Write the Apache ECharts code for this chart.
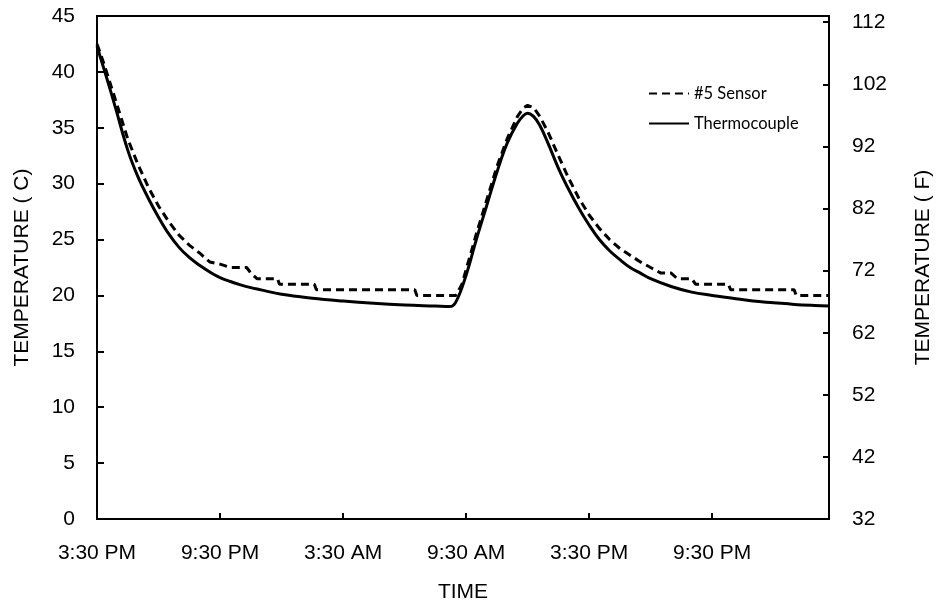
<!DOCTYPE html>
<html>
<head>
<meta charset="utf-8">
<script src="https://cdn.jsdelivr.net/npm/echarts@6/dist/echarts.min.js"></script>
<style>
  html, body { margin: 0; padding: 0; background: #fff; }
  #chart { width: 938px; height: 603px; }
</style>
</head>
<body>
<div id="chart"></div>
<script>
// hours after 3:30 PM
var tickLabels = ['3:30 PM', '9:30 PM', '3:30 AM', '9:30 AM', '3:30 PM', '9:30 PM'];

// thermocouple
var tcHours = [0, 0.25, 0.5, 0.9, 1.5, 2.0, 2.5, 3.0, 3.5, 4.0, 4.5, 5.0, 5.5, 6.0, 6.5, 7.0, 7.5, 8.0, 9.0,
  10.5, 12, 13.5, 15, 16.5, 17.2, 17.5, 18.0, 18.5, 19.0, 19.5, 20.0, 20.5, 20.8, 21.0, 21.3,
  21.6, 22.0, 22.5, 23.0, 23.5, 24.0, 24.5, 25.0, 25.5, 26.0, 26.5, 27.0, 28.0, 29.0, 30.0, 31.0, 32.0,
  33.0, 34.0, 35.0, 35.7];
var tcTemp = [42.3, 40.8, 39.3, 36.8, 33.0, 30.6, 28.7, 27.0, 25.5, 24.3, 23.4, 22.7, 22.1, 21.6, 21.25, 20.95, 20.7, 20.5, 20.1,
  19.75, 19.5, 19.3, 19.15, 19.05, 19.0, 19.4, 21.8, 25.0, 28.0, 31.0, 33.6, 35.4, 36.1, 36.3, 36.0,
  35.2, 33.6, 31.4, 29.5, 27.8, 26.3, 25.0, 24.0, 23.2, 22.5, 22.0, 21.5, 20.8, 20.3, 20.0, 19.75, 19.5,
  19.35, 19.2, 19.1, 19.05];

// #5 sensor
var snHours = [0, 0.25, 0.5, 0.9, 1.5, 2.0, 2.5, 3.0, 3.5, 4.0, 4.5, 5.0, 5.5, 6.0, 6.5, 7.3, 7.5,
  7.8, 8.8, 8.9, 10.6, 10.7, 15.5, 15.6, 17.5, 17.8, 18.0, 18.5, 19.0, 19.5, 20.0, 20.5, 20.8,
  21.0, 21.3, 21.6, 22.0, 22.5, 23.0, 23.5, 24.0, 24.5, 25.0, 25.5, 26.0, 26.5, 27.0, 27.5,
  28.0, 28.3, 29.0, 29.2, 30.8, 30.9, 34.0, 34.1, 35.7];
var snTemp = [42.5, 41.2, 39.8, 37.5, 34.0, 31.7, 29.7, 28.0, 26.6, 25.4, 24.5, 23.8, 23.0, 22.8, 22.5, 22.5, 22.0,
  21.5, 21.5, 21.0, 21.0, 20.5, 20.5, 20.0, 20.0, 21.0, 22.3, 25.5, 28.5, 31.5, 34.0, 36.0, 36.8,
  37.0, 36.8, 36.0, 34.6, 32.5, 30.5, 28.7, 27.2, 26.0, 25.0, 24.2, 23.6, 23.0, 22.5, 22.0,
  22.0, 21.5, 21.5, 21.0, 21.0, 20.5, 20.5, 20.0, 20.0];

function pairs(xs, ys) {
  return xs.map(function (x, i) { return [x, ys[i]]; });
}

var myChart = echarts.init(document.getElementById('chart'));

var axisFont = { fontFamily: 'Arial, Liberation Sans', fontSize: 21, color: '#000' };
var nameFont = { fontFamily: 'Arial, Liberation Sans', fontSize: 21, color: '#000' };

var option = {
  animation: false,
  backgroundColor: '#fff',
  grid: {
    left: 97, right: 109, top: 16, bottom: 84,
    outerBoundsMode: 'none',
    containLabel: false,
    show: true, borderColor: '#000', borderWidth: 2
  },
  legend: {
    orient: 'vertical',
    left: 643, top: 80,
    itemWidth: 40, itemHeight: 16, itemGap: 13,
    itemStyle: { color: 'transparent', borderColor: 'transparent', borderWidth: 0 },
    textStyle: { fontFamily: 'Lato', fontSize: 16.5, color: '#000' },
    data: ['#5 Sensor', 'Thermocouple']
  },
  xAxis: {
    type: 'value',
    min: 0, max: 35.7, interval: 6,
    name: 'TIME', nameLocation: 'middle', nameGap: 63,
    nameTextStyle: nameFont,
    axisLine: { lineStyle: { color: '#000', width: 2 } },
    axisTick: { inside: true, length: 6, lineStyle: { color: '#000', width: 2 } },
    axisLabel: Object.assign({
      margin: 24, showMaxLabel: false,
      formatter: function (v) {
        return v % 6 === 0 ? tickLabels[v / 6] : '';
      }
    }, axisFont),
    splitLine: { show: false }
  },
  yAxis: [{
    type: 'value',
    min: 0, max: 45, interval: 5,
    name: 'TEMPERATURE ( C)', nameLocation: 'middle', nameGap: 64,
    nameTextStyle: nameFont,
    axisLine: { show: true, lineStyle: { color: '#000', width: 2 } },
    axisTick: { show: true, inside: true, length: 7, lineStyle: { color: '#000', width: 2 } },
    axisLabel: Object.assign({ margin: 22 }, axisFont),
    splitLine: { show: false }
  }, {
    type: 'value',
    position: 'right',
    min: 32, max: 113, interval: 10,
    name: 'TEMPERATURE ( F)', nameLocation: 'middle', nameGap: 84,
    nameTextStyle: nameFont,
    axisLine: { show: true, lineStyle: { color: '#000', width: 2 } },
    axisTick: { show: true, inside: true, length: 6, lineStyle: { color: '#000', width: 2 } },
    axisLabel: Object.assign({ margin: 23, showMaxLabel: false }, axisFont),
    splitLine: { show: false }
  }],
  series: [{
    name: '#5 Sensor',
    type: 'line',
    yAxisIndex: 0,
    showSymbol: false, symbol: 'none',
    lineStyle: { color: '#000', width: 3, type: [8, 5] },
    itemStyle: { color: '#000' },
    data: pairs(snHours, snTemp)
  }, {
    name: 'Thermocouple',
    type: 'line',
    yAxisIndex: 0,
    showSymbol: false, symbol: 'none',
    smooth: 0.4,
    lineStyle: { color: '#000', width: 3 },
    itemStyle: { color: '#000' },
    data: pairs(tcHours, tcTemp)
  }]
};

myChart.setOption(option);
</script>
</body>
</html>
